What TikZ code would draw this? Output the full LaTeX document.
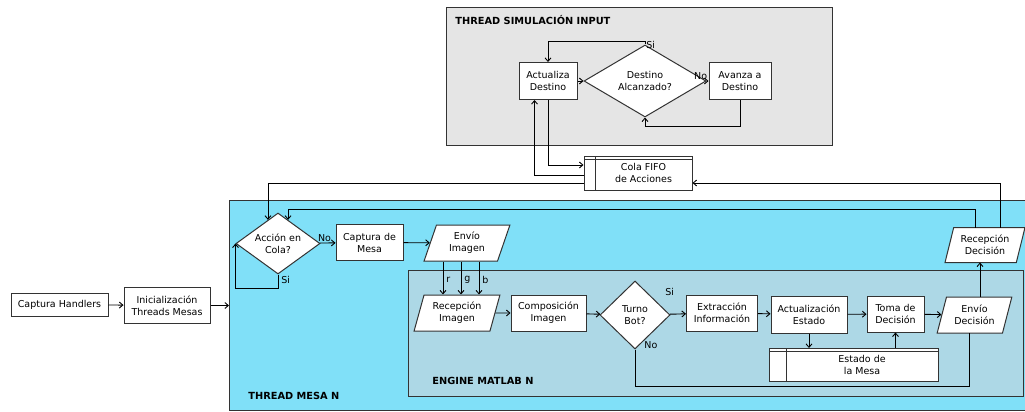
\documentclass[tikz,border=0pt]{standalone}
\usepackage{fontspec}
\setmainfont{DejaVu Sans}
\usetikzlibrary{shapes.geometric,arrows.meta,calc}
\definecolor{fondosim}{HTML}{E5E5E5}
\definecolor{fondomesa}{HTML}{80E0F8}
\definecolor{fondomatlab}{HTML}{ADD8E6}
\definecolor{borde}{HTML}{333333}
\tikzset{every picture/.style={x=1pt,y=-1pt,line width=0.9pt,font=\fontsize{9.5}{12}\selectfont}}
\tikzset{caja/.style={rectangle,draw=borde,fill=white,line width=1pt,align=center,inner sep=1pt}}
\tikzset{rombo/.style={diamond,draw=borde,fill=white,line width=1pt,align=center,inner sep=0pt,aspect=1.5}}
\tikzset{datos/.style={trapezium,trapezium left angle=72,trapezium right angle=108,trapezium stretches=true,
  draw=borde,fill=white,line width=1pt,align=center,inner sep=1pt}}
\tikzset{almacen/.style={caja,path picture={
  \draw[borde,line width=0.8pt] ([yshift=-3pt]path picture bounding box.north west) -- ([yshift=-3pt]path picture bounding box.north east);
  \draw[borde,line width=1pt] ([xshift=#1]path picture bounding box.north west) -- ([xshift=#1]path picture bounding box.south west);}}}
\tikzset{flecha/.style={-{Straight Barb[length=3.5pt,width=6pt]}}}
\tikzset{titulo/.style={font=\fontsize{9.8}{12}\selectfont\bfseries,anchor=west,inner sep=0pt}}
\tikzset{etiqueta/.style={inner sep=1pt}}

\begin{document}
\begin{tikzpicture}
\useasboundingbox (0,0) rectangle (1025,412);
\draw[borde,fill=fondosim,line width=1pt] (446,8) rectangle (832,145);
\node[titulo] (tsim) at (455,20) {THREAD SIMULACIÓN INPUT};
\draw[borde,fill=fondomesa,line width=1pt] (229,200) rectangle (1040,410);
\node[titulo] (tmesa) at (248,396) {THREAD MESA N};
\draw[borde,fill=fondomatlab,line width=1pt] (408,270) rectangle (1023,396);
\node[titulo] (tmatlab) at (432,381) {ENGINE MATLAB N};
\coordinate (mesaW) at (229,305);

\node[caja,minimum width=97pt,minimum height=23pt] (handlers) at (59.5,304.5) {Captura Handlers};
\node[caja,minimum width=86pt,minimum height=36pt] (init) at (167,305.5) {Inicialización\\Threads Mesas};

\node[caja,minimum width=58pt,minimum height=37pt] (actualiza) at (548,81) {Actualiza\\Destino};
\node[rombo,minimum width=122pt,minimum height=72pt] (destino) at (645,81) {Destino\\Alcanzado?};
\node[caja,minimum width=62pt,minimum height=37pt] (avanza) at (740,81) {Avanza a\\Destino};
\node[almacen=11pt,minimum width=108pt,minimum height=34pt,
  label={[align=center,xshift=5.5pt]center:Cola FIFO\\de Acciones}] (cola) at (638,173) {};

\node[rombo,minimum width=84pt,minimum height=61pt] (accion) at (278,243.5) {Acción en\\Cola?};
\node[caja,minimum width=67pt,minimum height=36pt] (captura) at (369.5,242.5) {Captura de\\Mesa};
\node[datos,minimum width=86pt,minimum height=36pt] (envioimg) at (467,243) {Envío\\Imagen};
\node[datos,minimum width=80pt,minimum height=35pt] (recdec) at (985,245) {Recepción\\Decisión};

\node[datos,minimum width=86pt,minimum height=36pt] (recimg) at (457,313) {Recepción\\Imagen};
\node[caja,minimum width=75pt,minimum height=36pt] (composicion) at (548.5,313) {Composición\\Imagen};
\node[rombo,minimum width=70pt,minimum height=68pt] (turno) at (635,315) {Turno\\Bot?};
\node[caja,minimum width=71pt,minimum height=36pt] (extraccion) at (722,313) {Extracción\\Información};
\node[caja,minimum width=76pt,minimum height=37pt] (actualizacion) at (809,314.5) {Actualización\\Estado};
\node[caja,minimum width=57pt,minimum height=36pt] (toma) at (895.5,314) {Toma de\\Decisión};
\node[datos,minimum width=75pt,minimum height=36pt] (enviodec) at (974.5,315) {Envío\\Decisión};
\node[almacen=17pt,minimum width=169pt,minimum height=33pt,
  label={[align=center,xshift=8.5pt]center:Estado de\\la Mesa}] (estado) at (853.5,365) {};

\draw[flecha] (handlers) -- (init);
\draw[flecha] (init.east) -- (init.east -| mesaW);

\draw[flecha] (actualiza) -- (destino);
\draw[flecha] (destino) -- node[etiqueta,above left,pos=0,xshift=2pt]{No} (avanza);
\draw[flecha] (destino.north) -- node[etiqueta,right,pos=0]{Si} ++(0,-3) -| (actualiza.north);
\draw[flecha] (avanza.south) -- ++(0,26) -| (destino.south);
\draw[flecha] (actualiza.south) |- ($(cola.west)+(0,-8)$);
\draw[flecha] ($(cola.west)+(0,2)$) -| ($(actualiza.south west)+(16,0)$);
\draw[flecha] ($(cola.west)+(0,10)$) -| (accion.113);
\draw[flecha] ($(recdec.center)+(15,-17.5)$) |- ($(cola.east)+(0,10)$);
\draw[flecha] ($(recdec.center)+(-10,-17.5)$) -- ++(0,-18.5) -| (accion.67);

\draw[flecha] (accion) -- node[etiqueta,above,pos=.3]{No} (captura);
\draw[flecha] (accion.south) -- node[etiqueta,right,xshift=2pt,yshift=2pt]{Si} ++(0,14) -| (accion.west);
\draw[flecha] (captura) -- (envioimg);
\foreach \dx/\c in {-24/r,-6/g,12/b}{
  \coordinate (canal) at ([xshift=\dx pt]envioimg.center);
  \draw[flecha] (canal |- envioimg.south) -- node[etiqueta,right,pos=.55,xshift=2pt]{\c} (canal |- recimg.north);
}
\draw[flecha] (recimg) -- (composicion);
\draw[flecha] (composicion) -- (turno);
\draw[flecha] (turno) -- node[etiqueta,above,pos=0,yshift=17pt]{Si} (extraccion);
\draw (turno.south) -- node[etiqueta,right,pos=0,xshift=8pt,yshift=4pt]{No} ++(0,37) -| ($(enviodec.center)+(-5.5,18)$);
\draw[flecha] (extraccion) -- (actualizacion);
\draw[flecha] (actualizacion) -- (toma);
\draw[flecha] (toma) -- (enviodec);
\draw[flecha] (actualizacion.south) -- (actualizacion.south |- estado.north);
\draw[flecha] (toma.south |- estado.north) -- (toma.south);
\draw[flecha] ($(enviodec.center)+(5.5,-18)$) -- ($(recdec.center)+(-5,17.5)$);
\end{tikzpicture}
\end{document}
